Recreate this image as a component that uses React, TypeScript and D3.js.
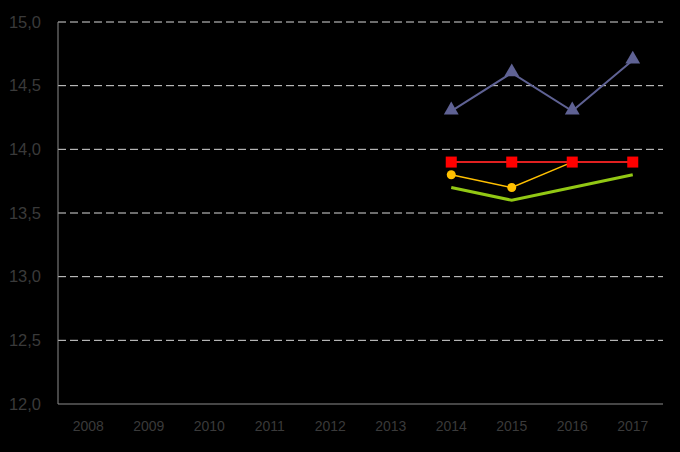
import React from "react";
import * as d3 from "d3";

const years = ["2008", "2009", "2010", "2011", "2012", "2013", "2014", "2015", "2016", "2017"];
const yTicks = [12.0, 12.5, 13.0, 13.5, 14.0, 14.5, 15.0];
const seriesYears = ["2014", "2015", "2016", "2017"];
const triangleValues = [14.3, 14.6, 14.3, 14.7];
const squareValues = [13.9, 13.9, 13.9, 13.9];
const circleValues = [13.8, 13.7, 13.9];
const greenValues = [13.7, 13.6, 13.7, 13.8];

const W = 680, H = 452;
const left = 58, right = 663, top = 22, bottom = 404;

export default function App() {
  const x = d3.scaleBand<string>().domain(years).range([left, right]);
  const y = d3.scaleLinear().domain([12, 15]).range([bottom, top]);
  const cx = (yr: string) => (x(yr) as number) + x.bandwidth() / 2;
  const line = d3.line<[string, number]>().x((d) => cx(d[0])).y((d) => y(d[1]));
  const tri = d3.symbol().type(d3.symbolTriangle).size(95)();
  const font = "'Liberation Sans', Arial, sans-serif";
  const zip = (vals: number[]) => vals.map((v, i) => [seriesYears[i], v] as [string, number]);
  const labelColor = "#3a3a3a";

  return (
    <svg width={W} height={H} style={{ position: "absolute", left: 0, top: 0, background: "#000" }}>
      <rect x={0} y={0} width={W} height={H} fill="#000" />
      {yTicks.slice(1).map((t) => (
        <line key={t} x1={left} x2={right} y1={y(t)} y2={y(t)} stroke="#d9d9d9" strokeWidth={1} strokeDasharray="8,4" />
      ))}
      <line x1={left} x2={left} y1={top} y2={bottom} stroke="#8c8c8c" strokeWidth={1} />
      <line x1={left} x2={right} y1={bottom} y2={bottom} stroke="#8c8c8c" strokeWidth={1} />
      {yTicks.map((t) => (
        <text key={t} x={41} y={y(t)} dy="0.35em" textAnchor="end" fill={labelColor} fontFamily={font} fontSize={16.5}>
          {d3.format(".1f")(t).replace(".", ",")}
        </text>
      ))}
      {years.map((yr) => (
        <text key={yr} x={cx(yr)} y={426} dy="0.35em" textAnchor="middle" fill={labelColor} fontFamily={font} fontSize={14}>
          {yr}
        </text>
      ))}
      <path d={line(zip(greenValues)) as string} fill="none" stroke="#92c814" strokeWidth={3} />
      <path d={line(zip(circleValues)) as string} fill="none" stroke="#ffc000" strokeWidth={1.5} />
      {zip(circleValues).map((d) => (
        <circle key={d[0]} cx={cx(d[0])} cy={y(d[1])} r={4.5} fill="#ffc000" />
      ))}
      <path d={line(zip(squareValues)) as string} fill="none" stroke="#e02020" strokeWidth={2} />
      {zip(squareValues).map((d) => (
        <rect key={d[0]} x={cx(d[0]) - 5.5} y={y(d[1]) - 5.5} width={11} height={11} fill="#ff0000" />
      ))}
      <path d={line(zip(triangleValues)) as string} fill="none" stroke="#5f6294" strokeWidth={2} />
      {zip(triangleValues).map((d) => (
        <path key={d[0]} d={tri as string} transform={`translate(${cx(d[0])},${y(d[1]) - 1})`} fill="#5f6294" />
      ))}
    </svg>
  );
}
